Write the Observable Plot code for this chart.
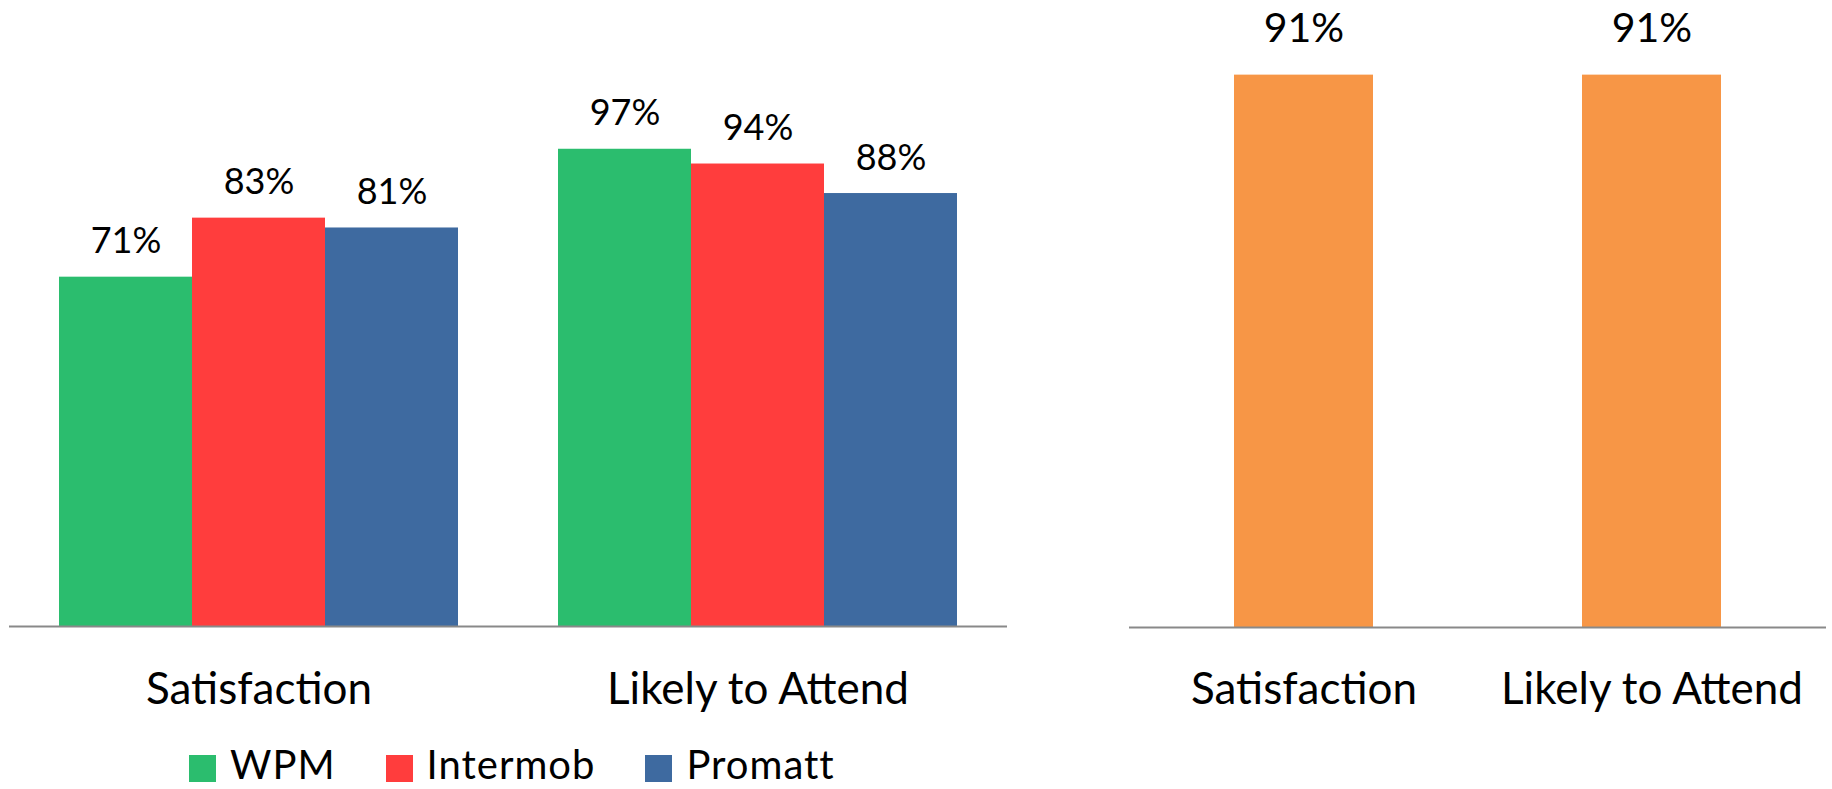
<!DOCTYPE html>
<html><head><meta charset="utf-8">
<script src="https://cdn.jsdelivr.net/npm/d3@7"></script>
<script src="https://cdn.jsdelivr.net/npm/@observablehq/plot@0.6"></script>
<style>
body{margin:0;background:#fff;}
#wrap{position:relative;width:1832px;height:789px;overflow:hidden;font-family:Lato,sans-serif;background:#fff;}
#left{position:absolute;left:0;top:0;}
#right{position:absolute;left:1100px;top:0;}
#legend{position:absolute;left:189px;top:740px;}
#legend .lg-swatches{font-family:Lato,sans-serif;font-size:40px;letter-spacing:1px;color:#000;margin:0;line-height:48px;}
#legend .lg-swatch{margin-right:50px;}
#legend .lg-swatch > svg{margin-right:14px;position:relative;top:4px;}
</style></head>
<body><div id="wrap"><div id="left"></div><div id="right"></div><div id="legend"></div></div>
<script>
const categories = ["Satisfaction", "Likely to Attend"];
const series = ["WPM", "Intermob", "Promatt"];
const wpm = [71, 97];
const intermob = [83, 94];
const promatt = [81, 88];
const overall = [91, 91];
const seriesColors = ["#2BBD6E", "#FF3D3D", "#3E6AA0"];
const overallColor = "#F79646";

const seriesValues = {WPM: wpm, Intermob: intermob, Promatt: promatt};
const leftData = categories.flatMap((c, i) => series.map(s => ({category: c, series: s, value: seriesValues[s][i]})));
const rightData = categories.map((c, i) => ({category: c, value: overall[i]}));

const baseStyle = {fontFamily: "Lato, sans-serif", color: "#000", background: "transparent", overflow: "visible"};

const left = Plot.plot({
  width: 1010, height: 720,
  marginLeft: 9, marginRight: 3, marginTop: 134, marginBottom: 94,
  style: baseStyle,
  fx: {domain: categories, padding: 0, label: null},
  x: {domain: series, paddingInner: 0, paddingOuter: 0.37, axis: null},
  y: {domain: [0, 100], axis: null},
  color: {domain: series, range: seriesColors},
  marks: [
    Plot.barY(leftData, {fx: "category", x: "series", y: "value", fill: "series"}),
    Plot.text(leftData, {fx: "category", x: "series", y: "value", text: d => d.value + "%", lineAnchor: "bottom", dy: -24, fontSize: 36, fill: "#000"}),
    Plot.ruleY([0], {stroke: "#898989", strokeWidth: 2}),
    Plot.axisFx({anchor: "bottom", tickSize: 0, tickPadding: 46, fontSize: 44, label: null, fill: "#000"})
  ]
});
document.getElementById("left").appendChild(left);

const right = Plot.plot({
  width: 732, height: 720,
  marginLeft: 29, marginRight: 6, marginTop: 20, marginBottom: 93,
  style: baseStyle,
  x: {domain: categories, paddingInner: 0.6, paddingOuter: 0.3, label: null},
  y: {domain: [0, 100], axis: null},
  marks: [
    Plot.barY(rightData, {x: "category", y: "value", fill: overallColor}),
    Plot.text(rightData, {x: "category", y: "value", text: d => d.value + "%", lineAnchor: "bottom", dy: -33, fontSize: 41, fill: "#000"}),
    Plot.ruleY([0], {stroke: "#898989", strokeWidth: 2}),
    Plot.axisX({anchor: "bottom", tickSize: 0, tickPadding: 45, fontSize: 44, label: null, fill: "#000"})
  ]
});
document.getElementById("right").appendChild(right);

const legend = Plot.legend({
  legend: "swatches",
  color: {domain: series, range: seriesColors},
  swatchSize: 27,
  className: "lg"
});
document.getElementById("legend").appendChild(legend);
</script>
</body></html>
